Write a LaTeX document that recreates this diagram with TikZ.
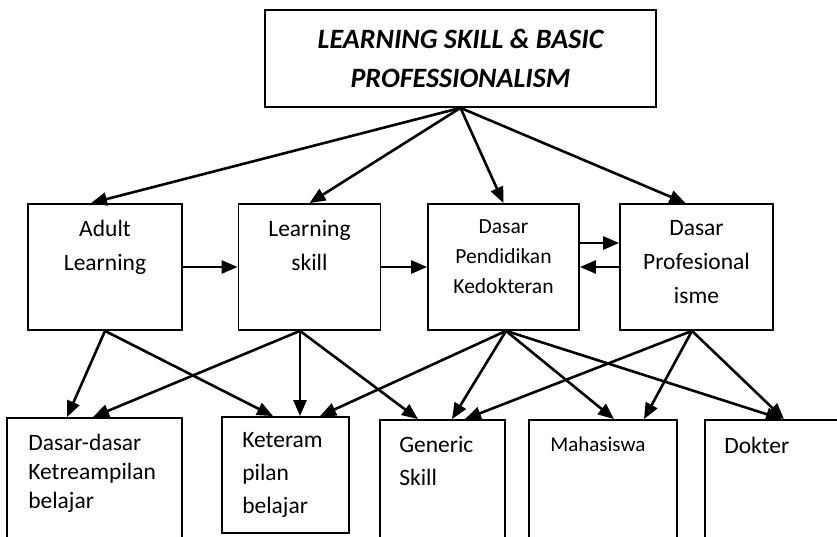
\documentclass[tikz,border=0pt]{standalone}
\usepackage{fontspec}
\setmainfont{Carlito}
\usetikzlibrary{arrows.meta,positioning}

\begin{document}
\begin{tikzpicture}[x=1pt,y=-1pt,
    box/.style={draw,line width=1.8pt,inner sep=0pt},
    txt/.style={inner sep=0pt,align=center,font=\fontsize{23.5}{34}\selectfont},
    ltxt/.style={inner sep=0pt,align=left,font=\fontsize{23.5}{33}\selectfont},
    link/.style={line width=2.6pt,-{Triangle[length=16pt,width=13pt]}}]
  \useasboundingbox (0,0) rectangle (837,537);
  \fill[white] (0,0) rectangle (837,537);
  \clip (0,0) rectangle (837,537);
  \draw
    (460.5,58.5) node[box,minimum width=391pt,minimum height=97pt,align=center,
      font=\fontsize{28}{39}\selectfont\bfseries\itshape] (top)
      {LEARNING SKILL \& BASIC\\PROFESSIONALISM}
    (105,267) node[box,minimum width=154pt,minimum height=126pt] (adult){}
    (309.5,267) node[box,minimum width=142pt,minimum height=126pt] (lskill){}
    (503.5,267) node[box,minimum width=151pt,minimum height=126pt] (dpk){}
    (696.5,267) node[box,minimum width=153pt,minimum height=126pt] (dprof){}
    (94.5,500) node[box,minimum width=175pt,minimum height=164pt] (dasar){}
    (285.5,475) node[box,minimum width=127pt,minimum height=116pt] (ketr){}
    (442.5,501) node[box,minimum width=125pt,minimum height=162pt] (generic){}
    (603,501) node[box,minimum width=148pt,minimum height=162pt] (mhs){}
    (792.5,501) node[box,minimum width=175pt,minimum height=162pt] (dokter){};
  % box texts
  \node[txt,below=17pt of adult.north] (adultT) {Adult\\Learning};
  \node[txt,below=17pt of lskill.north] (lskillT) {Learning\\skill};
  \node[txt,below=16pt of dpk.north,font=\fontsize{21.5}{30}\selectfont] (dpkT)
    {Dasar\\Pendidikan\\Kedokteran};
  \node[txt,below=17pt of dprof.north] (dprofT) {Dasar\\Profesional\\isme};
  \node[ltxt,below right=17pt and 22pt of dasar.north west,
    font=\fontsize{23.5}{29}\selectfont] (dasarT) {Dasar-dasar\\Ketreampilan\\belajar};
  \node[ltxt,below right=16pt and 21pt of ketr.north west] (ketrT) {Keteram\\pilan\\belajar};
  \node[ltxt,below right=17pt and 20pt of generic.north west] (genericT) {Generic\\Skill};
  \node[ltxt,below right=18pt and 22pt of mhs.north west,
    font=\fontsize{21}{30}\selectfont] (mhsT) {Mahasiswa};
  \node[ltxt,below right=18pt and 20pt of dokter.north west] (dokterT) {Dokter};
  \begin{scope}[link]
    \draw (top.south) to ([xshift=-14pt]adult.north);
    \draw (top.south) to (lskill.north);
    \draw (top.south) to (dpk.north);
    \draw (top.south) to ([xshift=-11pt]dprof.north);
    \draw (adult.east) to (lskill.west);
    \draw (lskill.east) to (dpk.west);
    \draw ([yshift=24pt]dpk.east) to ([yshift=24pt]dprof.west);
    \draw (dprof.west) to (dpk.east);
    \draw (adult.south) to ([xshift=-27.5pt]dasar.north);
    \draw ([xshift=-9.5pt]lskill.south) to ([xshift=-1.5pt]dasar.north);
    \draw (adult.south) to ([xshift=-12.5pt]ketr.north);
    \draw ([xshift=-9.5pt]lskill.south) to ([xshift=14.5pt]ketr.north);
    \draw ([xshift=2.5pt]dpk.south) to ([xshift=34.5pt]ketr.north);
    \draw ([xshift=-9.5pt]lskill.south) to ([xshift=-24.5pt]generic.north);
    \draw ([xshift=2.5pt]dpk.south) to ([xshift=9.5pt]generic.north);
    \draw ([xshift=-4.5pt]dprof.south) to ([xshift=22.5pt]generic.north);
    \draw ([xshift=2.5pt]dpk.south) to ([xshift=11pt]mhs.north);
    \draw ([xshift=-4.5pt]dprof.south) to ([xshift=41pt]mhs.north);
    \draw ([xshift=2.5pt]dpk.south) to ([xshift=-10.5pt]dokter.north);
    \draw ([xshift=-4.5pt]dprof.south) to ([xshift=-8.5pt]dokter.north);
  \end{scope}
\end{tikzpicture}
\end{document}
